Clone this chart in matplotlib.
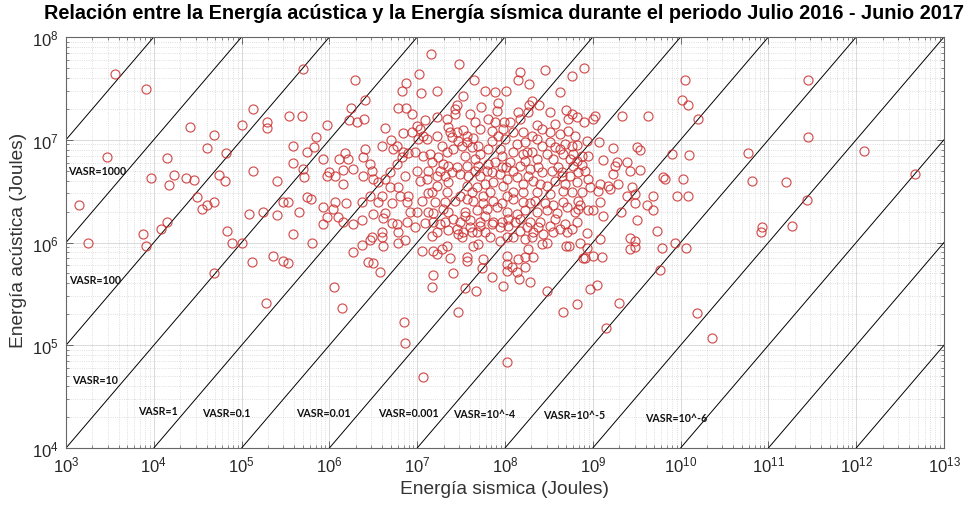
import numpy as np
import matplotlib
matplotlib.use("Agg")
import matplotlib.pyplot as plt
from matplotlib.ticker import FixedLocator, LogFormatterSciNotation, NullFormatter

plt.rcParams['font.family'] = ['Liberation Sans', 'DejaVu Sans']
plt.rcParams['mathtext.default'] = 'regular'

# Energía sísmica (J) y energía acústica (J) de cada evento
energia_sismica = [
    3.6e3, 8.2e3, 2.9e3, 1.4e3, 1.8e3, 1.4e4, 9.3e3, 1.5e4, 1.7e4, 2.3e4, 2.6e4, 7.5e3, 8.2e3, 1.2e4,
    1.4e4, 3.1e4, 3.5e4, 4.0e4, 4.8e4, 2.9e4, 4.0e4, 4.8e4, 5.5e4, 6.4e4, 6.6e4, 6.8e4, 7.8e4, 1.0e5,
    1.0e5, 1.35e5, 1.2e5, 1.35e5, 1.95e5, 1.95e5, 1.75e5, 2.5e5, 2.5e5, 3.0e5, 3.4e5, 3.5e5, 3.8e5,
    3.8e5, 3.9e5, 4.5e5, 4.9e5, 5.0e5, 5.0e5, 5.1e5, 5.6e5, 5.6e5, 6.2e5, 6.3e5, 6.7e5, 7.0e5,
    4.9e4, 1.3e5, 2.3e5, 3.0e5, 3.4e5, 1.9e5, 1.16e7,
    1.44e7, 3.0e7, 1.05e7, 1.95e6, 7.5e6, 6.7e6, 1.1e7, 1.7e7, 4.4e7, 5.9e7, 7.7e7, 1.03e8, 2.55e6,
    1.76e6, 6.0e6, 7.5e6, 8.7e6, 1.23e7, 1.7e7, 2.2e7, 2.7e7, 2.85e7, 3.3e7, 4.0e7, 5.3e7, 6.4e7,
    8.1e7, 8.3e7, 9.8e7, 1.67e6, 2.06e6, 2.5e6, 9.4e5, 4.3e6, 6.9e6, 8.7e6, 9.9e6, 1.08e7, 1.16e7,
    1.02e7, 1.3e7, 1.7e7, 2.25e7, 2.85e7, 3.3e7, 3.7e7, 4.3e7, 2.5e7, 2.9e7, 4.0e6, 5.0e6, 5.3e6,
    5.9e6, 2.55e6, 1.5e6, 8.4e5, 2.4e6, 1.3e6, 1.63e6, 2.9e6, 1.86e6, 1.43e6, 1.0e6, 9.4e5, 1.16e6,
    3.05e6, 3.1e6, 2.4e6, 1.43e6, 3.6e6, 4.3e6, 4.9e6, 5.9e6, 6.7e6, 6.9e6, 7.9e6, 9.4e6, 1.16e7,
    1.4e7, 1.47e7, 1.72e7, 1.97e7, 2.2e7, 1.9e7, 2.55e7, 3.2e7, 4.2e7, 5.2e7, 6.4e7, 8.8e7, 1.0e8,
    8.3e7, 7.1e7, 4.9e6, 6.0e6, 7.3e6, 9.9e6, 1.08e7, 1.3e7, 1.7e7, 2.07e7, 2.85e7, 3.07e7, 3.7e7,
    4.55e7, 5.2e7, 6.2e7, 7.7e7, 9.2e7, 1.03e8, 2.2e7, 3.7e7, 4.8e7, 7.3e7, 9.5e7, 3.07e7, 1.47e7,
    1.7e7, 2.9e6, 4.0e6, 6.4e6, 7.9e6,
    2.85e8, 7.95e8, 1.48e8, 1.41e8, 1.88e8, 5.8e8, 4.2e8, 1.12e10, 1.04e10, 1.2e10, 2.03e8, 1.88e8,
    2.44e8, 1.41e8, 1.48e8, 4.95e8, 5.8e8, 5.2e8, 6.6e8, 7.95e8, 1.0e9, 1.06e9, 2.15e9, 4.25e9,
    1.14e8, 9.5e7, 1.23e8, 1.6e8, 2.03e8, 2.64e8, 3.25e8, 3.7e8, 2.3e8, 1.7e8, 1.37e8, 2.64e8,
    3.25e8, 3.7e8, 4.2e8, 4.8e8, 5.8e8, 6.6e8, 8.6e8, 1.18e9, 1.7e9, 3.2e9, 3.45e9, 8.0e9, 1.23e8,
    1.6e8, 2.03e8, 2.3e8, 3.0e8, 3.5e8, 4.6e8, 5.5e8, 7.5e8, 8.8e8, 1.3e9, 1.9e9, 1.8e9, 2.45e9,
    1.14e8, 1.48e8, 1.23e8, 1.93e8, 2.38e8, 2.64e8, 4.0e8, 5.95e8, 7.5e8, 8.2e8, 4.5e8, 3.7e8,
    5.5e8, 6.6e8, 8.8e8, 2.65e9, 3.45e9, 1.7e9, 1.2e9, 9.3e8, 1.5e9, 1.94e9, 2.8e9, 6.3e9, 6.6e9,
    1.06e10, 1.05e8, 1.37e8, 1.6e8, 2.08e8, 2.5e8, 3.0e8, 1.6e8, 2.3e8, 4.6e8, 5.8e8, 7.5e8,
    1.15e9, 1.57e9, 3.0e9, 4.85e9, 9.1e9, 1.2e10, 1.23e8,
    1.16e6, 1.55e6, 8.4e5, 1.1e6, 2.35e6, 3.6e6, 7.7e6, 5.15e6, 1.13e7, 1.6e7, 2.7e7, 4.3e7, 5.6e7,
    7.3e7, 9.2e7, 1.05e8, 3.1e6, 4.3e6, 8.3e6, 9.9e6, 1.5e7, 1.97e7, 2.25e7, 3.5e7, 4.8e7, 6.2e7,
    8.1e7, 1.25e6, 1.43e6, 1.86e6, 2.35e6, 4.1e6, 5.15e6, 5.9e6, 7.7e6, 9.4e6, 1.23e7, 1.5e7,
    1.8e7, 2.07e7, 2.55e7, 3.07e7, 4.0e7, 5.2e7, 7.3e7, 9.2e7, 1.08e8, 9.4e5, 8.4e5, 4.0e6, 6.0e6,
    3.05e6, 4.0e6, 2.9e6, 2.35e6, 1.86e6, 4.1e6, 6.0e6, 7.3e6, 1.47e7, 1.7e7, 2.25e7, 2.85e7,
    2.9e7, 3.2e7, 3.3e7, 4.2e7, 4.8e7, 5.9e7, 6.7e7, 8.8e7, 1.05e8, 1.13e7, 1.5e7, 1.7e7, 1.9e7,
    2.2e7, 2.35e7, 3.7e7, 3.7e7, 4.3e7, 4.9e7, 5.6e7, 5.45e7, 7.1e7, 9.5e7, 1.05e8, 1.05e8, 2.75e6,
    3.1e6, 3.8e6, 1.5e7, 2.55e7, 1.47e7, 3.5e7, 4.7e7, 1.13e6, 1.4e6, 2.9e7, 7.1e6, 7.3e6,
    3.25e8, 2.45e9, 3.0e9, 4.1e9, 4.85e9, 1.23e8, 1.6e8, 1.93e8, 2.2e8, 2.85e8, 3.5e8, 5.1e8,
    6.8e8, 7.2e8, 8.8e8, 1.0e9, 1.2e9, 6.3e8, 1.05e8, 1.37e8, 1.7e8, 2.3e8, 3.0e8, 3.9e8, 1.3e9,
    2.1e9, 3.2e9, 1.3e8, 1.48e8, 1.93e8, 2.5e8, 3.25e8, 4.2e8, 4.8e8, 6.6e8, 1.48e8, 1.78e8,
    2.08e8, 2.7e8, 3.5e8, 1.23e8, 1.7e8, 2.03e8, 3.0e8, 2.64e8, 8.6e8, 4.95e8, 5.35e8, 7.2e8,
    8.6e8, 1.2e9, 2.65e9, 3.0e9, 2.65e9, 3.0e9, 5.4e9, 6.1e9, 8.6e9, 1.15e10, 1.83e8, 1.41e8,
    1.7e8, 2.08e8, 1.2e8, 1.7e8, 1.37e8, 1.05e8, 1.44e8, 1.93e8, 7.75e8, 8.2e8, 1.0e9, 1.27e9,
    5.8e9, 3.0e8, 9.3e8, 1.12e9, 6.6e8, 2.0e9, 4.6e8, 1.4e9,
    1.05e8, 1.54e10, 2.27e10, 2.8e11, 2.8e11, 6.5e10, 1.59e11, 2.75e11, 8.4e10, 8.2e10, 1.86e11,
    1.23e12, 4.7e12, 5.85e10, 1.58e10, 1.25e10,
    2.7e7, 4.55e7, 7.7e7, 2.35e7, 5.2e7, 7.1e7, 3.7e7, 4.9e7, 3.5e7, 4.55e7, 2.25e7, 4.9e7, 6.4e7,
    9.2e7, 1.33e7, 1.8e7, 2.5e7, 7.1e7,
    1.83e8, 3.25e8, 2.3e8, 4.2e8, 5.2e8, 6.3e8, 1.78e8, 5.95e8, 1.7e8, 6.6e8, 3.43e8, 4.46e8, 6.8e8,
    3.8e7, 8.8e7, 2.25e7, 5.9e7, 1.33e7, 4.2e7, 6.7e7, 2.07e7, 3.7e7, 5.6e7, 1.33e7, 3.5e7, 5.9e7,
    4.0e7, 5.2e7, 7.1e7, 8.8e7,
    1.83e8, 4.8e8, 4.6e8, 6.8e8, 3.7e8, 2.38e8, 5.8e8, 5.1e8, 1.08e8,
]

energia_acustica = [
    4.4e7, 3.1e7, 6.8e6, 2.3e6, 1.0e6, 6.6e6, 4.2e6, 3.6e6, 4.5e6, 4.2e6, 1.33e7, 1.2e6, 9.2e5, 1.35e6,
    1.6e6, 2.8e6, 2.1e6, 2.3e6, 2.5e6, 4.1e6, 8.3e6, 1.1e7, 4.5e6, 4.0e6, 7.4e6, 1.3e6, 9.8e5, 1.0e6,
    1.4e7, 5.0e6, 1.9e6, 2.0e7, 1.5e7, 1.3e7, 2.0e6, 1.85e6, 4.0e6, 2.5e6, 2.5e6, 1.7e7, 8.7e6,
    5.9e6, 1.2e6, 2.0e6, 1.7e7, 4.9e7, 5.2e6, 4.3e6, 7.6e6, 2.8e6, 2.65e6, 1.0e6, 8.5e6, 1.06e7,
    5.0e5, 6.5e5, 7.4e5, 6.6e5, 6.3e5, 2.6e5, 4.9e4,
    6.8e7, 5.5e7, 4.4e7, 3.8e7, 3.6e7, 3.0e7, 2.85e7, 3.0e7, 3.8e7, 3.0e7, 2.9e7, 3.0e7, 2.45e7,
    2.05e7, 2.05e7, 2.05e7, 1.8e7, 1.55e7, 1.65e7, 1.6e7, 2.0e7, 2.2e7, 2.65e7, 1.8e7, 2.1e7, 1.6e7,
    1.9e7, 2.3e7, 1.5e7, 1.55e7, 1.5e7, 1.6e7, 1.4e7, 1.3e7, 1.16e7, 1.19e7, 1.36e7, 1.27e7, 1.09e7,
    1.02e7, 1.02e7, 1.09e7, 1.33e7, 1.19e7, 1.24e7, 1.09e7, 1.04e7, 1.07e7, 9.7e6, 8.7e6, 1.0e7, 8.1e6,
    8.7e6, 8.1e6, 7.4e6, 6.5e6, 6.8e6, 6.5e6, 6.5e6, 5.8e6, 5.2e6, 5.1e6, 4.9e6, 4.4e6, 4.4e6,
    5.0e6, 4.15e6, 4.4e6, 3.7e6, 3.9e6, 4.15e6, 4.9e6, 5.8e6, 6.8e6, 7.6e6, 7.4e6, 7.6e6, 6.9e6,
    7.3e6, 6.1e6, 6.8e6, 5.8e6, 7.6e6, 8.7e6, 8.1e6, 8.7e6, 8.5e6, 7.3e6, 8.1e6, 8.1e6, 1.02e7,
    1.09e7, 9.7e6, 3.5e6, 3.5e6, 4.4e6, 5.0e6, 4.0e6, 4.15e6, 4.4e6, 4.4e6, 5.4e6, 4.6e6, 5.5e6,
    5.0e6, 4.4e6, 5.0e6, 6.1e6, 6.9e6, 5.4e6, 3.1e6, 3.55e6, 3.5e6, 3.9e6, 3.55e6, 2.85e6, 3.1e6,
    3.55e6, 2.85e6, 2.85e6, 2.85e6, 2.85e6,
    4.8e7, 5.0e7, 4.6e7, 3.8e7, 3.5e7, 4.2e7, 2.9e7, 3.8e7, 2.45e7, 2.2e7, 2.4e7, 2.2e7,
    2.2e7, 1.85e7, 1.6e7, 1.95e7, 1.8e7, 1.6e7, 1.65e7, 1.5e7, 1.6e7, 1.7e7, 1.7e7, 1.7e7,
    1.5e7, 1.27e7, 1.19e7, 1.2e7, 1.09e7, 1.27e7, 1.19e7, 1.43e7, 1.02e7, 9.5e6, 9.1e6, 8.7e6,
    9.5e6, 8.5e6, 8.1e6, 9.1e6, 8.7e6, 8.9e6, 9.7e6, 9.5e6, 8.3e6, 8.5e6, 7.9e6, 7.3e6, 7.6e6,
    7.3e6, 7.6e6, 6.5e6, 7.3e6, 6.5e6, 7.3e6, 6.5e6, 6.9e6, 6.9e6, 6.3e6, 6.1e6, 5.5e6, 6.1e6,
    6.1e6, 5.5e6, 5.0e6, 5.2e6, 5.4e6, 4.9e6, 5.4e6, 5.5e6, 5.7e6, 5.0e6, 4.4e6, 4.0e6,
    4.4e6, 3.9e6, 4.15e6, 5.0e6, 5.1e6, 4.65e6, 3.7e6, 3.5e6, 3.55e6, 3.7e6, 3.5e6, 4.3e6, 4.15e6,
    4.15e6, 4.15e6, 4.3e6, 3.7e6, 4.0e6, 3.7e6, 3.55e6, 3.1e6, 3.1e6, 3.2e6, 3.1e6, 3.1e6,
    3.2e6, 3.3e6, 2.95e6, 2.85e6, 2.85e6, 2.85e6, 3.1e6,
    2.5e6, 2.4e6, 2.2e6, 2.1e6, 2.5e6, 2.5e6, 2.5e6, 2.4e6, 2.55e6, 2.5e6, 2.55e6, 2.55e6, 2.85e6,
    2.55e6, 2.4e6, 2.85e6, 1.9e6, 1.95e6, 2.0e6, 2.0e6, 1.95e6, 2.1e6, 2.0e6, 2.0e6, 2.05e6, 2.1e6,
    2.2e6, 1.77e6, 1.6e6, 1.5e6, 1.65e6, 1.73e6, 1.55e6, 1.5e6, 1.6e6, 1.4e6, 1.55e6, 1.6e6,
    1.5e6, 1.6e6, 1.7e6, 1.6e6, 1.65e6, 1.6e6, 1.6e6, 1.6e6, 1.45e6, 1.77e6, 1.5e6, 1.27e6, 1.27e6,
    1.13e6, 1.13e6, 1.06e6, 9.5e5, 8.1e5, 9.2e5, 1.0e6, 1.06e6, 1.16e6, 1.27e6, 1.32e6, 1.35e6,
    1.2e6, 1.13e6, 1.27e6, 1.27e6, 1.27e6, 1.27e6, 1.13e6, 1.03e6, 1.13e6, 8.3e5, 8.3e5, 7.7e5, 8.6e5,
    9.2e5, 7.1e5, 7.2e5, 6.6e5, 9.2e5, 9.6e5, 6.9e5, 5.6e5, 4.6e5, 3.8e5, 7.4e5, 6.2e5, 6.5e5,
    6.3e5, 5.2e5, 4.8e5, 5.0e5, 3.7e5, 3.6e5, 3.4e5, 3.7e5, 2.3e5, 2.1e5, 1.7e5, 1.05e5,
    2.95e6, 2.85e6, 2.4e6, 2.3e6, 2.07e6, 2.65e6, 2.5e6, 2.4e6, 2.55e6, 2.4e6, 2.3e6, 2.2e6,
    2.55e6, 2.3e6, 2.07e6, 2.07e6, 2.5e6, 2.0e6, 2.0e6, 1.9e6, 2.07e6, 2.0e6, 2.07e6, 1.95e6, 1.8e6,
    2.0e6, 1.65e6, 1.6e6, 1.7e6, 1.6e6, 1.6e6, 1.45e6, 1.35e6, 1.5e6, 1.6e6, 1.3e6, 1.4e6,
    1.27e6, 1.2e6, 1.27e6, 1.13e6, 1.08e6, 1.13e6, 1.0e6, 9.7e5, 1.24e6, 9.2e5, 9.2e5, 1.0e6,
    8.8e5, 1.08e6, 1.1e6, 1.03e6, 8.6e5, 9.0e5, 1.3e6, 8.8e5, 1.0e6, 8.8e5, 8.6e5, 6.9e5,
    7.2e5, 7.2e5, 5.8e5, 5.8e5, 5.2e5, 5.3e5, 4.4e5, 4.1e5, 7.1e5, 7.1e5, 7.4e5, 7.2e5,
    5.4e5, 3.4e5, 3.5e5, 3.85e5, 2.5e5, 2.6e5, 2.1e5, 1.47e5,
    6.9e4, 2.06e5, 1.18e5, 3.8e7, 1.06e7, 4.0e6, 3.9e6, 2.6e6, 1.4e6, 1.27e6, 1.45e6,
    7.8e6, 4.6e6, 7.4e6, 1.6e7, 7.1e6,
    1.8e7, 1.5e7, 1.5e7, 1.19e7, 1.27e7, 1.22e7, 9.5e6, 8.7e6, 6.9e6, 6.5e6, 5.5e6, 5.5e6, 5.8e6,
    5.4e6, 5.0e6, 5.0e6, 4.9e6, 4.9e6,
    1.85e7, 1.85e7, 1.4e7, 1.14e7, 1.22e7, 1.09e7, 7.6e6, 7.3e6, 6.2e6, 6.2e6, 5.0e6, 4.9e6, 4.9e6,
    4.4e6, 4.6e6, 3.9e6, 3.7e6, 3.0e6, 3.1e6, 3.1e6, 2.5e6, 2.65e6, 2.4e6, 2.0e6, 1.8e6, 1.8e6,
    1.4e6, 1.45e6, 1.5e6, 1.4e6,
    4.4e6, 3.7e6, 2.5e6, 2.1e6, 1.7e6, 1.4e6, 1.35e6, 1.27e6, 1.7e6,
]

# Rectas de razón constante VASR = E_acústica / E_sísmica
vasr = [1e4, 1e3, 1e2, 1e1, 1e0, 1e-1, 1e-2, 1e-3, 1e-4, 1e-5, 1e-6, 1e-7, 1e-8]

# Rótulos de las rectas y su posición (E_sísmica, E_acústica)
etiquetas = ["VASR=1000", "VASR=100", "VASR=10", "VASR=1", "VASR=0.1", "VASR=0.01",
             "VASR=0.001", "VASR=10^-4", "VASR=10^-5", "VASR=10^-6"]
pos_etiquetas = [(1.05e3, 5.0e6), (1.08e3, 4.4e5), (1.17e3, 4.6e4), (6.6e3, 2.3e4),
                 (3.5e4, 2.2e4), (4.2e5, 2.2e4), (3.6e6, 2.2e4), (2.55e7, 2.15e4),
                 (2.7e8, 2.1e4), (3.9e9, 2.0e4)]

xdec = range(3, 14)
ydec = range(4, 9)

fig = plt.figure(figsize=(9.76, 5.06), dpi=100)
ax = fig.add_axes([66 / 976, 1 - 449 / 506, 878 / 976, 411 / 506])
ax.set_xscale('log')
ax.set_yscale('log')
ax.set_xlim(1e3, 1e13)
ax.set_ylim(1e4, 1e8)

ax.set_axisbelow(True)
ax.grid(True, which='major', color='#d4d4d4', lw=0.6, ls='-')
ax.grid(True, which='minor', color='#d4d4d4', lw=0.6, ls=':')

xl = np.array([1e3, 1e13])
for k in vasr:
    ax.plot(xl, k * xl, color='black', lw=0.7, zorder=2)

ax.plot(energia_sismica, energia_acustica, linestyle='none', marker='o', markersize=6.5,
        markerfacecolor='none', markeredgecolor='#cc3030', markeredgewidth=0.85, alpha=0.85,
        zorder=3)

for txt, (px, py) in zip(etiquetas, pos_etiquetas):
    ax.text(px, py, txt, fontsize=7.7, fontweight='bold', family=['Lato', 'DejaVu Sans'],
            ha='left', va='center', color='#111111', zorder=4)

ax.xaxis.set_major_locator(FixedLocator([10.0 ** e for e in xdec]))
ax.yaxis.set_major_locator(FixedLocator([10.0 ** e for e in ydec]))
ax.xaxis.set_minor_locator(FixedLocator([m * 10.0 ** e for e in xdec[:-1] for m in range(2, 10)]))
ax.yaxis.set_minor_locator(FixedLocator([m * 10.0 ** e for e in ydec[:-1] for m in range(2, 10)]))
ax.xaxis.set_major_formatter(LogFormatterSciNotation())
ax.yaxis.set_major_formatter(LogFormatterSciNotation())
ax.xaxis.set_minor_formatter(NullFormatter())
ax.yaxis.set_minor_formatter(NullFormatter())

ax.tick_params(which='both', direction='in', top=True, right=True, color='#555555')
ax.tick_params(which='major', length=5, width=0.6, labelsize=12, labelcolor='#262626', pad=5)
ax.tick_params(which='minor', length=2.5, width=0.5)
for s in ax.spines.values():
    s.set_color('#666666')
    s.set_linewidth(0.8)

fig.text(0.5165, 0.974,
         'Relación entre la Energía acústica y la Energía sísmica durante el periodo Julio 2016 - Junio 2017',
         ha='center', va='center', fontsize=14.3, fontweight='bold', color='black')
fig.text(0.517, 0.033, 'Energía sismica (Joules)', ha='center', va='center',
         fontsize=13.8, color='#333333')
fig.text(0.019, 0.524, 'Energía acústica (Joules)', ha='center', va='center',
         rotation=90, fontsize=13.8, color='#333333')

fig.savefig('out.png', dpi=100)
